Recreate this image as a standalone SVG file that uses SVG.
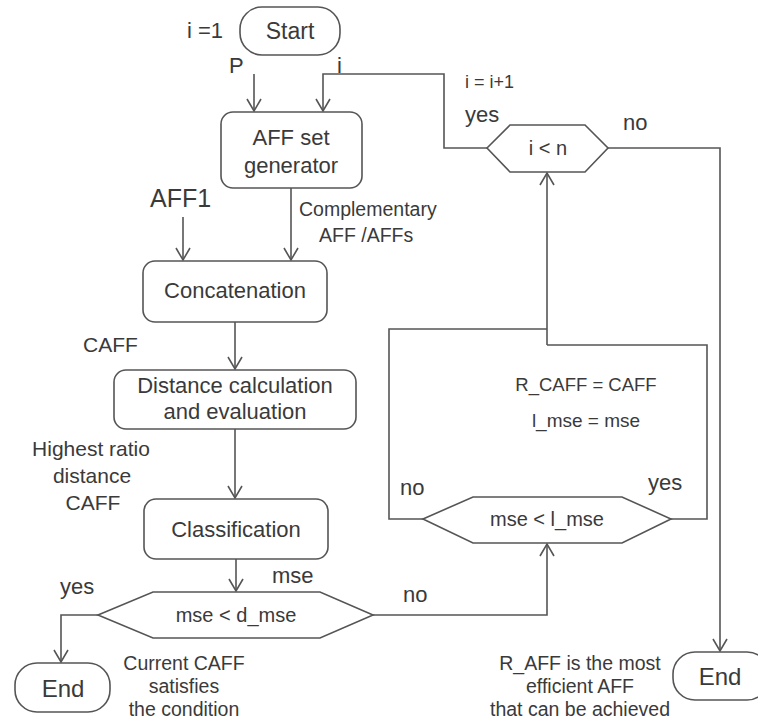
<svg xmlns="http://www.w3.org/2000/svg" width="758" height="726" viewBox="0 0 758 726">
<style>
.n{fill:#fff;stroke:#555;stroke-width:1.6}
.c{fill:none;stroke:#555;stroke-width:1.6}
text{font-family:"Liberation Sans",Arial,sans-serif;fill:#3a3a3a}
.m{text-anchor:middle}
</style>
<defs>
<marker id="a" markerUnits="userSpaceOnUse" markerWidth="16" markerHeight="16" viewBox="0 0 16 16" refX="14" refY="8" orient="auto">
<path d="M2,1 L14,8 L2,15" fill="none" stroke="#555" stroke-width="1.6"/>
</marker>
</defs>
<rect width="758" height="726" fill="#fff"/>
<g id="connectors">
<path class="c" d="M254,74 V111" marker-end="url(#a)"/>
<path class="c" d="M487,148 H444 V74 H323 V111" marker-end="url(#a)"/>
<path class="c" d="M183,217 V260" marker-end="url(#a)"/>
<path class="c" d="M291,188 V260" marker-end="url(#a)"/>
<path class="c" d="M235,322 V369" marker-end="url(#a)"/>
<path class="c" d="M235,429 V498" marker-end="url(#a)"/>
<path class="c" d="M236,559 V591" marker-end="url(#a)"/>
<path class="c" d="M98,615 H61 V662" marker-end="url(#a)"/>
<path class="c" d="M373,615 H547 V544" marker-end="url(#a)"/>
<path class="c" d="M671,519 H707 V345 H547"/>
<path class="c" d="M423,519 H389 V329 H547"/>
<path class="c" d="M547,345 V173" marker-end="url(#a)"/>
<path class="c" d="M608,148 H720 V651" marker-end="url(#a)"/>
</g>
<g id="start">
<rect class="n" x="240" y="7" width="100" height="48" rx="22"/>
<text class="m" x="290" y="39" font-size="23">Start</text>
</g>
<g id="aff-gen">
<rect class="n" x="221" y="112" width="141" height="76" rx="12"/>
<text class="m" x="291" y="145" font-size="22">AFF set</text>
<text class="m" x="291" y="173" font-size="22">generator</text>
</g>
<g id="concat">
<rect class="n" x="143" y="261" width="184" height="61" rx="12"/>
<text class="m" x="235" y="298" font-size="22">Concatenation</text>
</g>
<g id="distance">
<rect class="n" x="114" y="370" width="242" height="59" rx="12"/>
<text class="m" x="235" y="393" font-size="22">Distance calculation</text>
<text class="m" x="235" y="419" font-size="22">and evaluation</text>
</g>
<g id="classification">
<rect class="n" x="144" y="499" width="184" height="60" rx="12"/>
<text class="m" x="236" y="537" font-size="22">Classification</text>
</g>
<g id="dec-dmse">
<polygon class="n" points="98,615 153,592 320,592 373,615 320,638 153,638"/>
<text class="m" x="236" y="622" font-size="20">mse &lt; d_mse</text>
</g>
<g id="dec-lmse">
<polygon class="n" points="423,519 473,497 622,497 671,519 622,543 473,543"/>
<text class="m" x="547" y="526" font-size="20">mse &lt; l_mse</text>
</g>
<g id="dec-n">
<polygon class="n" points="487,148 510,125 585,125 608,148 585,172 510,172"/>
<text class="m" x="548" y="155" font-size="20">i &lt; n</text>
</g>
<g id="end-left">
<rect class="n" x="15" y="663" width="95" height="49" rx="22"/>
<text class="m" x="63" y="697" font-size="24">End</text>
</g>
<g id="end-right">
<rect class="n" x="673" y="652" width="96" height="48" rx="22"/>
<text class="m" x="720" y="685" font-size="24">End</text>
</g>
<g id="labels">
<text x="187" y="38" font-size="22">i =1</text>
<text x="229" y="73" font-size="22">P</text>
<text x="337" y="73" font-size="22">i</text>
<text x="465" y="88" font-size="18">i = i+1</text>
<text x="465" y="122" font-size="22">yes</text>
<text x="623" y="130" font-size="22">no</text>
<text x="150" y="207" font-size="25">AFF1</text>
<text x="299" y="216" font-size="19.5">Complementary</text>
<text x="319" y="242" font-size="19.5">AFF /AFFs</text>
<text x="83" y="352" font-size="21">CAFF</text>
<text class="m" x="91" y="456" font-size="21">Highest ratio</text>
<text class="m" x="92" y="483" font-size="21">distance</text>
<text class="m" x="93" y="510" font-size="21">CAFF</text>
<text class="m" x="586" y="391" font-size="18.5">R_CAFF = CAFF</text>
<text class="m" x="586" y="427" font-size="19">l_mse = mse</text>
<text x="400" y="495" font-size="22">no</text>
<text x="648" y="490" font-size="22">yes</text>
<text x="272" y="583" font-size="22">mse</text>
<text x="60" y="594" font-size="22">yes</text>
<text x="403" y="602" font-size="22">no</text>
<text class="m" x="184" y="670" font-size="19.5">Current CAFF</text>
<text class="m" x="184" y="693" font-size="19.5">satisfies</text>
<text class="m" x="184" y="716" font-size="19.5">the condition</text>
<text class="m" x="580" y="670" font-size="19.5">R_AFF is the most</text>
<text class="m" x="580" y="693" font-size="19.5">efficient AFF</text>
<text class="m" x="580" y="716" font-size="19.5">that can be achieved</text>
</g>
</svg>
